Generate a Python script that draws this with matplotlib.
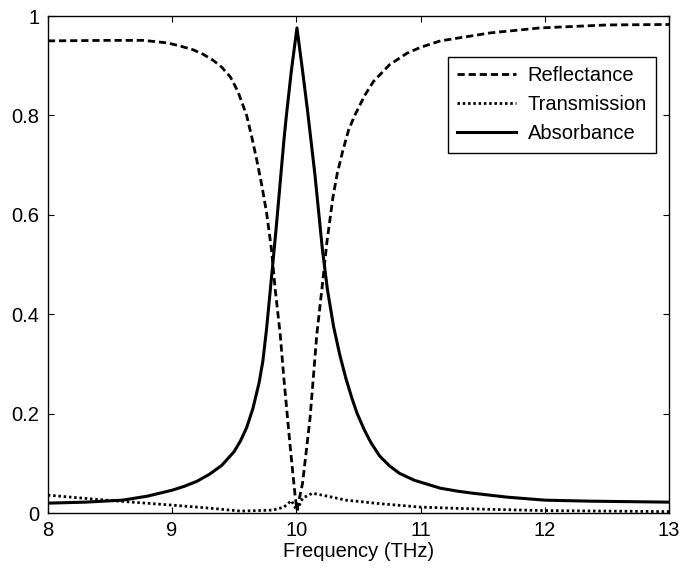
import matplotlib
matplotlib.use("Agg")
import matplotlib.pyplot as plt

# values
freq_r = [8.0, 8.5, 8.77, 8.96, 9.06, 9.17, 9.25, 9.33, 9.40, 9.47, 9.53, 9.60, 9.64,
          9.68, 9.72, 9.76, 9.80, 9.83, 9.87, 9.90, 9.95, 9.99, 10.005, 10.05, 10.11,
          10.165, 10.21, 10.245, 10.295, 10.33, 10.375, 10.42, 10.47, 10.55, 10.62,
          10.75, 10.89, 11.0, 11.16, 11.56, 11.96, 12.5, 13.0]
reflectance = [0.950, 0.951, 0.951, 0.946, 0.940, 0.932, 0.923, 0.911, 0.897, 0.877,
               0.848, 0.800, 0.758, 0.712, 0.662, 0.605, 0.53, 0.45, 0.36, 0.27, 0.135,
               0.035, 0.006, 0.06, 0.19, 0.36, 0.46, 0.543, 0.636, 0.684, 0.73, 0.77,
               0.80, 0.84, 0.868, 0.902, 0.925, 0.937, 0.950, 0.966, 0.976, 0.982, 0.983]

freq_t = [8.0, 8.47, 9.0, 9.3, 9.55, 9.81, 9.90, 9.96, 10.005, 10.05, 10.13, 10.25,
          10.4, 10.67, 11.0, 11.48, 12.0, 13.0]
transmission = [0.036, 0.026, 0.016, 0.010, 0.004, 0.006, 0.012, 0.025, 0.005, 0.03,
                0.04, 0.034, 0.026, 0.019, 0.012, 0.008, 0.005, 0.003]

freq_a = [8.0, 8.3, 8.6, 8.8, 9.0, 9.1, 9.2, 9.3, 9.4, 9.5, 9.55, 9.60, 9.65, 9.70,
          9.73, 9.76, 9.81, 9.84, 9.87, 9.90, 9.92, 9.96, 10.005, 10.05, 10.09, 10.12,
          10.15, 10.18, 10.21, 10.25, 10.30, 10.35, 10.40, 10.45, 10.49, 10.55, 10.60,
          10.67, 10.75, 10.83, 10.95, 11.16, 11.3, 11.42, 11.70, 12.0, 12.36, 13.0]
absorbance = [0.020, 0.022, 0.026, 0.034, 0.046, 0.054, 0.064, 0.078, 0.096, 0.124,
              0.145, 0.172, 0.21, 0.262, 0.305, 0.37, 0.50, 0.58, 0.665, 0.75, 0.80,
              0.89, 0.976, 0.89, 0.81, 0.745, 0.68, 0.605, 0.53, 0.45, 0.375, 0.318,
              0.270, 0.229, 0.200, 0.166, 0.142, 0.115, 0.095, 0.080, 0.066, 0.050,
              0.044, 0.040, 0.032, 0.026, 0.024, 0.022]

plt.rcParams['font.family'] = ['Liberation Sans', 'DejaVu Sans']

fig = plt.figure(figsize=(6.94, 5.72), dpi=100)
ax = fig.add_axes([0.069, 0.103, 0.895, 0.869])

ax.plot(freq_r, reflectance, color='black', lw=2.0, ls=(0, (2.6, 1.4)), label='Reflectance')
ax.plot(freq_t, transmission, color='black', lw=2.0, ls=(0, (0.9, 1.0)), label='Transmission')
ax.plot(freq_a, absorbance, color='black', lw=2.2, ls='-', label='Absorbance')

ax.set_xlim(8, 13)
ax.set_ylim(0, 1)
ax.set_xticks([8, 9, 10, 11, 12, 13])
ax.set_yticks([0, 0.2, 0.4, 0.6, 0.8, 1])
ax.set_yticklabels(['0', '0.2', '0.4', '0.6', '0.8', '1'])
ax.tick_params(direction='in', top=True, right=True, length=4, width=0.8,
               labelsize=14.5, pad=6)
ax.set_xlabel('Frequency (THz)', fontsize=14.5, labelpad=1)
for s in ax.spines.values():
    s.set_linewidth(1.0)

leg = ax.legend(loc='upper right', bbox_to_anchor=(0.979, 0.917), fontsize=14.5,
                frameon=True, fancybox=False, handlelength=2.9, borderpad=0.45,
                labelspacing=0.5, handletextpad=0.6, borderaxespad=0)
leg.get_frame().set_edgecolor('black')
leg.get_frame().set_linewidth(1.0)
leg.get_frame().set_alpha(1)

fig.savefig('out.png', dpi=100)
